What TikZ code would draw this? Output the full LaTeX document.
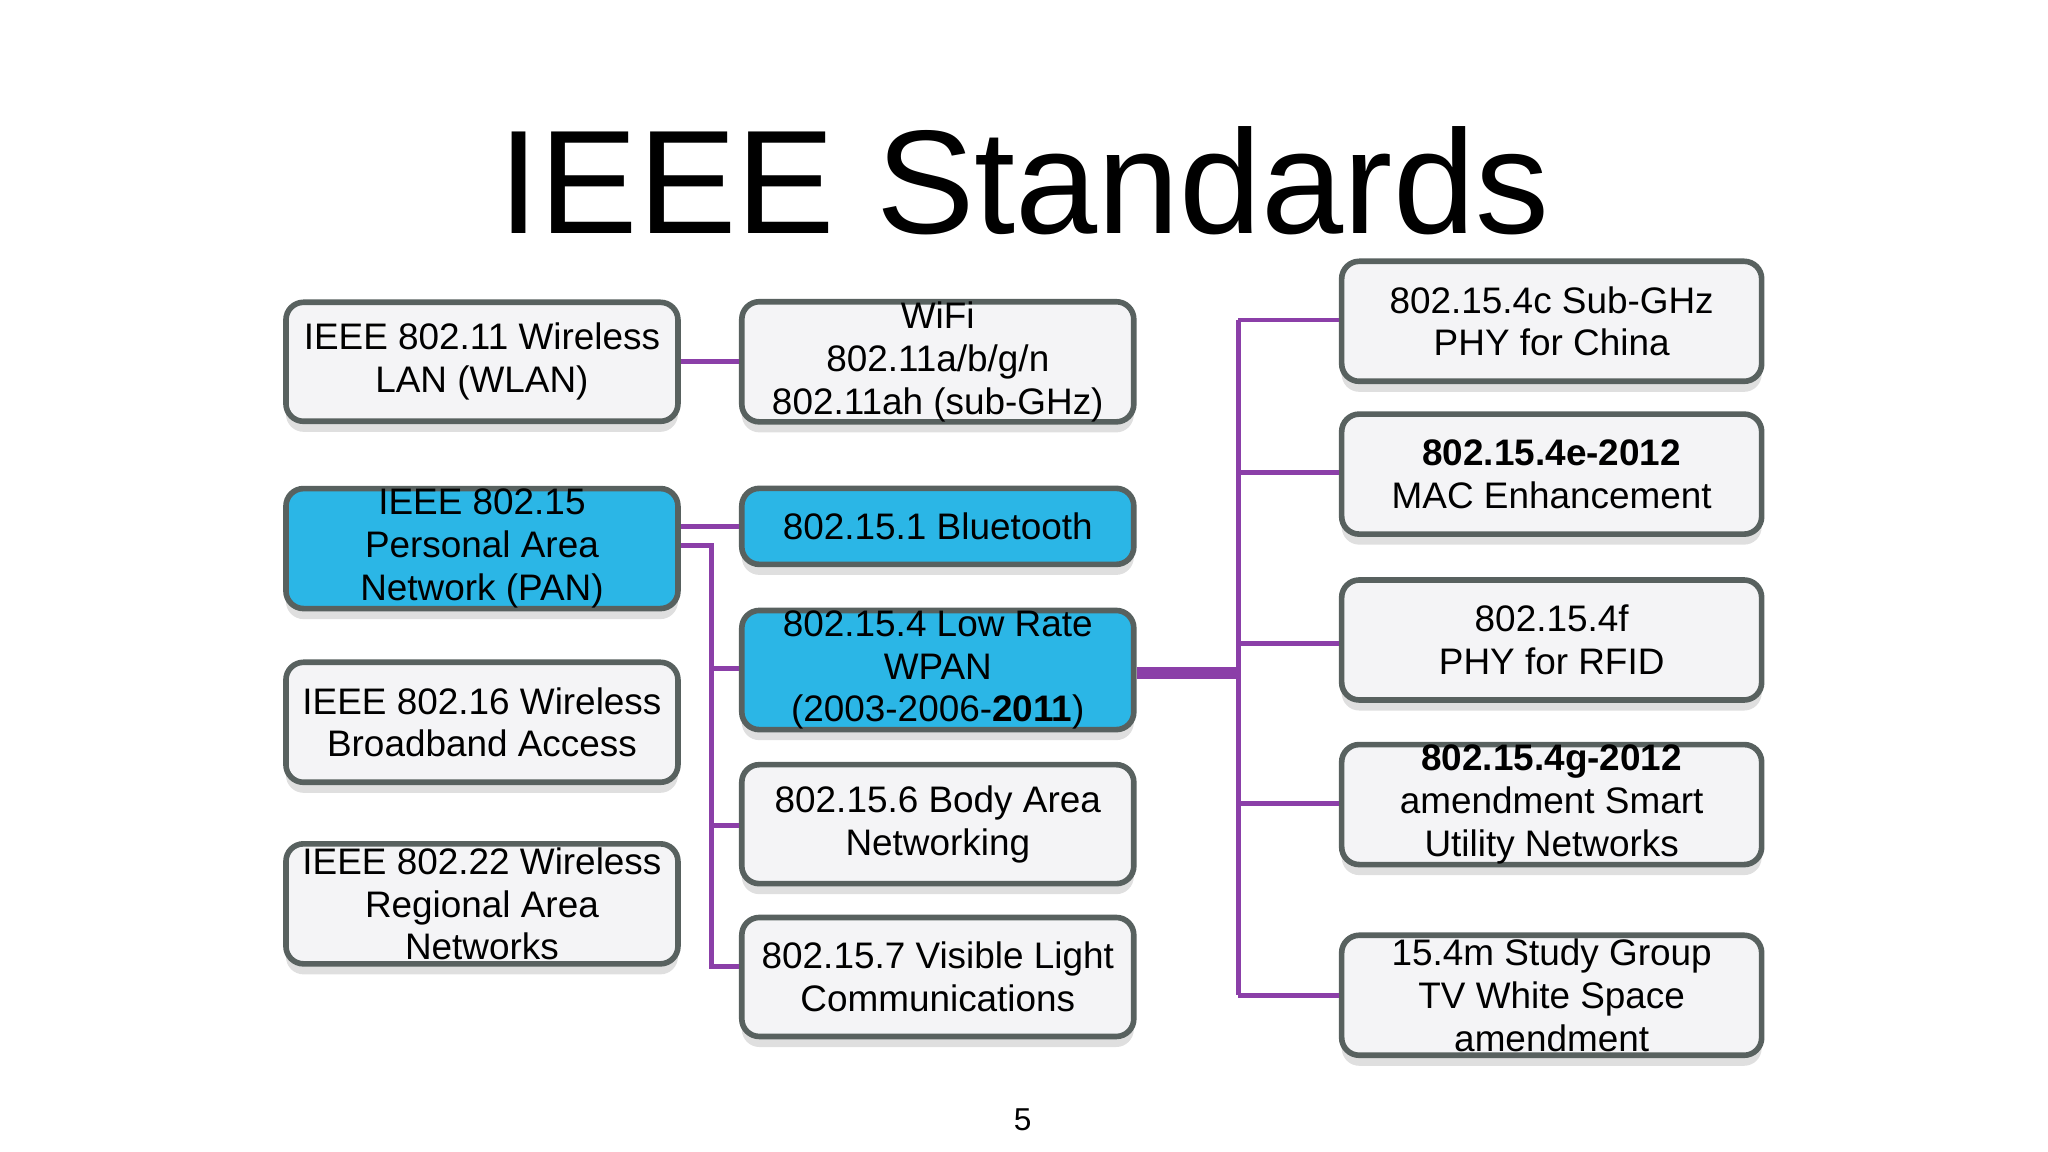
\documentclass[tikz,border=0pt]{standalone}
\usepackage{fontspec}
\setmainfont{Liberation Sans}
\usetikzlibrary{shadows}
\definecolor{bx}{HTML}{F4F4F6}
\definecolor{bl}{HTML}{2BB6E6}
\definecolor{bd}{HTML}{58615F}
\definecolor{pu}{HTML}{8B3FA8}
\begin{document}
\begin{tikzpicture}[x=0.01306cm,y=-0.01306cm,
  box/.style={draw=bd,line width=1.6pt,rounded corners=5pt,fill=bx,align=center,font=\fontsize{10.5}{12.2}\selectfont,inner sep=0pt,drop shadow={shadow xshift=0pt,shadow yshift=-3pt,opacity=0.25}},
  bbox/.style={box,fill=bl},
  ln/.style={draw=pu,line width=1.4pt}]
\useasboundingbox (0,0) rectangle (1568,882);
\node[font=\fontsize{42}{46}\selectfont] (title) at (784,138) {IEEE Standards};
\newcommand\bxat[6]{\node[#1,minimum width=#4*0.01306cm-1.6pt,minimum height=#5*0.01306cm-1.6pt] (#6) at (#2,#3) {};}
% left
\node[box,minimum width=3.92cm,minimum height=1.19cm] (wlan) at (369,277) {IEEE 802.11 Wireless\\LAN (WLAN)};
\node[bbox,minimum width=3.92cm,minimum height=1.2cm] (pan) at (369,420) {IEEE 802.15\\Personal Area\\Network (PAN)};
\node[box,minimum width=3.92cm,minimum height=1.2cm] (b16) at (369,553) {IEEE 802.16 Wireless\\Broadband Access};
\node[box,minimum width=3.92cm,minimum height=1.2cm] (b22) at (369,692) {IEEE 802.22 Wireless\\Regional Area\\Networks};
% middle
\node[box,minimum width=3.92cm,minimum height=1.19cm] (wifi) at (718,277) {WiFi\\802.11a/b/g/n\\802.11ah (sub-GHz)};
\node[bbox,minimum width=3.92cm,minimum height=0.76cm] (bt) at (718,403) {802.15.1 Bluetooth};
\node[bbox,minimum width=3.92cm,minimum height=1.19cm] (lr) at (718,513) {802.15.4 Low Rate\\WPAN\\(2003-2006-\textbf{2011})};
\node[box,minimum width=3.92cm,minimum height=1.19cm] (body) at (718,631) {802.15.6 Body Area\\Networking};
\node[box,minimum width=3.92cm,minimum height=1.19cm] (vis) at (718,748) {802.15.7 Visible Light\\Communications};
% right
\node[box,minimum width=4.2cm,minimum height=1.2cm] (r1) at (1188,246) {802.15.4c Sub-GHz\\PHY for China};
\node[box,minimum width=4.2cm,minimum height=1.2cm] (r2) at (1188,363) {\textbf{802.15.4e-2012}\\MAC Enhancement};
\node[box,minimum width=4.2cm,minimum height=1.2cm] (r3) at (1188,490) {802.15.4f\\PHY for RFID};
\node[box,minimum width=4.2cm,minimum height=1.2cm] (r4) at (1188,616) {\textbf{802.15.4g-2012}\\amendment Smart\\Utility Networks};
\node[box,minimum width=4.2cm,minimum height=1.2cm] (r5) at (1188,762) {15.4m Study Group\\TV White Space\\amendment};
\node[font=\fontsize{9}{10}\selectfont] (pg) at (783,857) {5};
\begin{scope}[on background layer/.style={}]
\end{scope}
% connectors
\draw[ln] (wlan.east) -- (wifi.west);
\draw[ln] (pan.east |- bt.west) -- (bt.west);
\coordinate (pj) at (545,418);
\draw[ln] (pan.east |- pj) -- (pj) -- (545,740) -- (vis.west |- 0,740);
\draw[ln] (545,512) -- (lr.west |- 0,512);
\draw[ln] (545,632) -- (body.west |- 0,632);
\coordinate (rj) at (948,515);
\draw[draw=pu,line width=3.5pt] (lr.east |- rj) -- (rj);
\draw[ln] (948,245) -- (948,762);
\foreach \n/\y in {r1/245,r2/362,r3/493,r4/615,r5/762} \draw[ln] (948,\y) -- (\n.west |- 0,\y);
\end{tikzpicture}
\end{document}
